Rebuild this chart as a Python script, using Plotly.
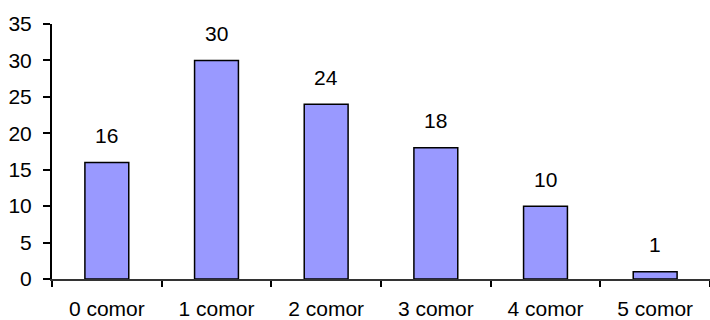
import plotly.graph_objects as go

categories = ["0 comor", "1 comor", "2 comor", "3 comor", "4 comor", "5 comor"]
values = [16, 30, 24, 18, 10, 1]
y_ticks = [0, 5, 10, 15, 20, 25, 30, 35]

FONT = "Liberation Sans, Arial, sans-serif"
FS = 21

fig = go.Figure()
fig.add_trace(go.Bar(
    x=categories, y=values, width=0.4,
    marker=dict(color="#9999FF", line=dict(color="black", width=1.5)),
    hoverinfo="skip",
))
for c, v in zip(categories, values):
    fig.add_annotation(x=c, y=v, text=str(v), showarrow=False,
                       yanchor="middle", yshift=27,
                       font=dict(family=FONT, size=FS, color="black"))

fig.update_layout(
    width=710, height=320,
    margin=dict(l=52, r=0, t=24, b=41),
    paper_bgcolor="white", plot_bgcolor="white",
    showlegend=False,
    font=dict(family=FONT, size=FS, color="black"),
    bargap=0.6,
)
fig.update_xaxes(
    range=[-0.5, 5.5], showline=True, linecolor="#333333", linewidth=1.5,
    ticks="outside", tickson="boundaries", ticklen=6, tickwidth=2, tickcolor="black",
    showgrid=False, zeroline=False, ticklabelstandoff=10, automargin=False,
    tickfont=dict(family=FONT, size=FS, color="black"),
)
fig.update_yaxes(
    range=[0, 35], tickvals=y_ticks, showline=True, linecolor="black", linewidth=2,
    ticks="outside", ticklen=7, tickwidth=2, tickcolor="black",
    showgrid=False, zeroline=False, ticklabelstandoff=7, automargin=False,
    tickfont=dict(family=FONT, size=FS, color="black"),
)

fig.write_html("out.html")
